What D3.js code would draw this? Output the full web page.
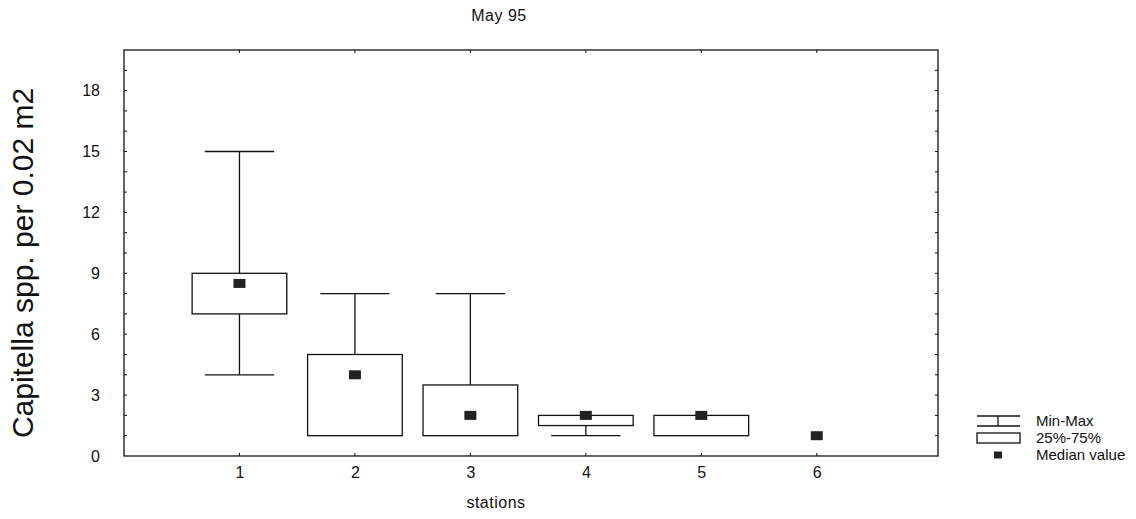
<!DOCTYPE html>
<html>
<head>
<meta charset="utf-8">
<script src="https://cdn.jsdelivr.net/npm/d3@7"></script>
<style>
  html, body { margin: 0; padding: 0; background: #fff; }
  svg { display: block; }
  text { font-family: Arial, "Liberation Sans", sans-serif; fill: #111; }
</style>
</head>
<body>
<svg id="chart" width="1136" height="519"></svg>
<script>
// ---- data ----
const stations = ["1", "2", "3", "4", "5", "6"];
const minVals    = [4, 1, 1, 1, 1, 1];
const q1Vals     = [7, 1, 1, 1.5, 1, 1];
const medianVals = [8.5, 4, 2, 2, 2, 1];
const q3Vals     = [9, 5, 3.5, 2, 2, 1];
const maxVals    = [15, 8, 8, 2, 2, 1];
const yTicks = [0, 3, 6, 9, 12, 15, 18];
const legendLabels = ["Min-Max", "25%-75%", "Median value"];
const titleText = "May 95";
const xLabel = "stations";
const yLabel = "Capitella spp. per 0.02 m2";

// ---- layout ----
const svg = d3.select("#chart");
const L = 124, R = 938, T = 50, B = 456;
const x = d3.scaleLinear().domain([0, 7.05]).range([L, R]);
const y = d3.scaleLinear().domain([0, 20]).range([B, T]);
const stroke = "#111";
const FONT = "Arial, 'Liberation Sans', sans-serif";

// frame
svg.append("rect").attr("x", L).attr("y", T).attr("width", R - L).attr("height", B - T)
  .attr("fill", "none").attr("stroke", stroke).attr("stroke-width", 1.3);

// y axis minor ticks (left & right, inward)
const minor = d3.range(1, 20);
svg.append("g").selectAll("line").data(minor).join("line")
  .attr("x1", L).attr("x2", L + 3).attr("y1", d => y(d)).attr("y2", d => y(d))
  .attr("stroke", stroke).attr("stroke-width", 1);
svg.append("g").selectAll("line").data(minor).join("line")
  .attr("x1", R).attr("x2", R - 3).attr("y1", d => y(d)).attr("y2", d => y(d))
  .attr("stroke", stroke).attr("stroke-width", 1);

// y axis labels
const yAxis = d3.axisLeft(y).tickValues(yTicks).tickSize(0).tickPadding(24).tickFormat(d3.format("d"));
const gy = svg.append("g").attr("transform", `translate(${L},0)`).call(yAxis);
gy.select(".domain").remove();
gy.selectAll("text").style("font-size", "16px").style("font-family", FONT).attr("fill", "#111");

// x axis
const xAxis = d3.axisBottom(x).tickValues(d3.range(1, 7)).tickSize(0)
  .tickFormat((d, i) => stations[i]);
const gx = svg.append("g").attr("transform", `translate(0,${B})`).call(xAxis);
gx.select(".domain").remove();
gx.selectAll("text").style("font-size", "16px").style("font-family", FONT).attr("fill", "#111")
  .attr("dy", null).attr("y", 22);
// small x ticks inward bottom & top
svg.append("g").selectAll("line").data(d3.range(1, 7)).join("line")
  .attr("x1", d => x(d)).attr("x2", d => x(d)).attr("y1", B).attr("y2", B - 3)
  .attr("stroke", stroke);
svg.append("g").selectAll("line").data(d3.range(1, 7)).join("line")
  .attr("x1", d => x(d)).attr("x2", d => x(d)).attr("y1", T).attr("y2", T + 3)
  .attr("stroke", stroke);

// ---- boxes ----
const boxHalf = 0.41, capHalf = 0.3;
const data = stations.map((s, i) => ({
  pos: i + 1, min: minVals[i], q1: q1Vals[i], med: medianVals[i], q3: q3Vals[i], max: maxVals[i]
}));
const g = svg.append("g");
data.forEach(d => {
  const cx = x(d.pos);
  if (d.max > d.q3) {
    g.append("line").attr("x1", cx).attr("x2", cx).attr("y1", y(d.q3)).attr("y2", y(d.max)).attr("stroke", stroke).attr("stroke-width", 1.3);
    g.append("line").attr("x1", x(d.pos - capHalf)).attr("x2", x(d.pos + capHalf)).attr("y1", y(d.max)).attr("y2", y(d.max)).attr("stroke", stroke).attr("stroke-width", 1.3);
  }
  if (d.min < d.q1) {
    g.append("line").attr("x1", cx).attr("x2", cx).attr("y1", y(d.q1)).attr("y2", y(d.min)).attr("stroke", stroke).attr("stroke-width", 1.3);
    g.append("line").attr("x1", x(d.pos - capHalf)).attr("x2", x(d.pos + capHalf)).attr("y1", y(d.min)).attr("y2", y(d.min)).attr("stroke", stroke).attr("stroke-width", 1.3);
  }
  if (d.q3 > d.q1) {
    g.append("rect").attr("x", x(d.pos - boxHalf)).attr("y", y(d.q3))
      .attr("width", x(d.pos + boxHalf) - x(d.pos - boxHalf)).attr("height", y(d.q1) - y(d.q3))
      .attr("fill", "#fff").attr("stroke", stroke).attr("stroke-width", 1.3);
  }
  g.append("rect").attr("x", cx - 6).attr("y", y(d.med) - 4.5).attr("width", 12).attr("height", 9)
    .attr("fill", "#222");
});

// ---- title & labels ----
svg.append("text").attr("x", 499).attr("y", 21).attr("text-anchor", "middle")
  .style("font-size", "16px").style("letter-spacing", "0.5px").text(titleText);
svg.append("text").attr("x", 496).attr("y", 508).attr("text-anchor", "middle")
  .style("font-size", "16px").style("letter-spacing", "0.5px").text(xLabel);
svg.append("text").attr("transform", `translate(33,263) rotate(-90)`).attr("text-anchor", "middle")
  .style("font-size", "30px").text(yLabel);

// ---- legend ----
const lg = svg.append("g");
const lx0 = 977, lx1 = 1020, lmx = 998;
const ly = [421, 438, 455];
lg.append("line").attr("x1", lx0).attr("x2", lx1).attr("y1", ly[0] - 5).attr("y2", ly[0] - 5).attr("stroke", stroke).attr("stroke-width", 1.3);
lg.append("line").attr("x1", lx0).attr("x2", lx1).attr("y1", ly[0] + 5).attr("y2", ly[0] + 5).attr("stroke", stroke).attr("stroke-width", 1.3);
lg.append("line").attr("x1", lmx).attr("x2", lmx).attr("y1", ly[0] - 5).attr("y2", ly[0] + 5).attr("stroke", stroke).attr("stroke-width", 1.3);
lg.append("rect").attr("x", lx0).attr("y", ly[1] - 5).attr("width", lx1 - lx0).attr("height", 10)
  .attr("fill", "#fff").attr("stroke", stroke).attr("stroke-width", 1.3);
lg.append("rect").attr("x", lmx - 4).attr("y", ly[2] - 3.5).attr("width", 8).attr("height", 7).attr("fill", "#222");
lg.selectAll("text").data(legendLabels).join("text")
  .attr("x", 1036).attr("y", (d, i) => ly[i] + 5)
  .style("font-size", "15px").text(d => d);
</script>
</body>
</html>
